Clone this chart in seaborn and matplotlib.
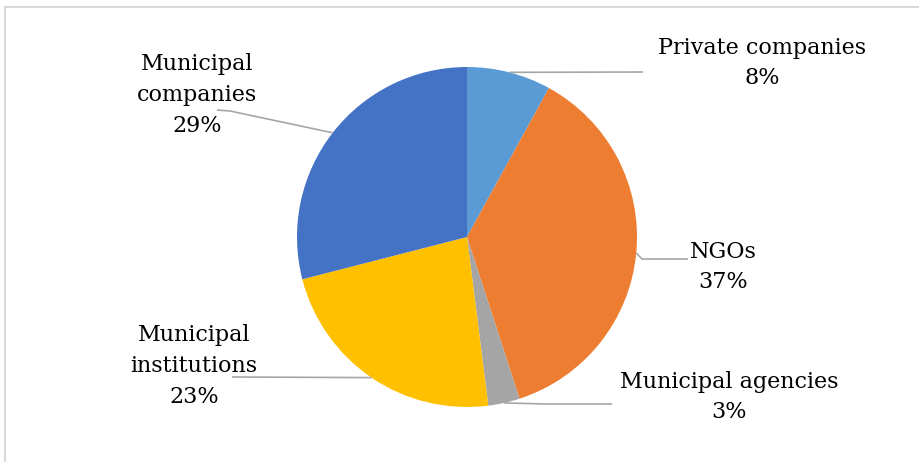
import numpy as np
import matplotlib
matplotlib.use("Agg")
import matplotlib.pyplot as plt
from matplotlib.patches import Rectangle
import seaborn as sns

# Share of organisations by type (percent)
categories = ["Private companies", "NGOs", "Municipal agencies",
              "Municipal institutions", "Municipal companies"]
shares = [8, 37, 3, 23, 29]
label_lines = [["Private companies"], ["NGOs"], ["Municipal agencies"],
               ["Municipal", "institutions"], ["Municipal", "companies"]]
colors = ["#5B9BD5", "#ED7D31", "#A5A5A5", "#FFC000", "#4472C4"]

sns.set_theme(style="white")
plt.rcParams["font.family"] = ["DejaVu Serif"]

W, H, DPI = 920, 462, 100
fig = plt.figure(figsize=(W / DPI, H / DPI), dpi=DPI)
ax = fig.add_axes([0, 0, 1, 1])

# pie centre and radius in pixels (from top-left)
CX, CY, R = 467, 237, 170


def px(x, y):
    """Pixel position (from top-left) to data coordinates."""
    return (x - CX) / R, (CY - y) / R


wedges, _ = ax.pie(shares, colors=colors, startangle=90, counterclock=False,
                   radius=1.0, center=(0, 0),
                   wedgeprops=dict(linewidth=0))

ax.set_xlim((0 - CX) / R, (W - CX) / R)
ax.set_ylim((CY - H) / R, CY / R)
ax.set_aspect("auto")
ax.axis("off")

# label block centres (pixels) and leader-line end / elbow points
label_pos = [(762, 63), (723, 267), (729, 397), (194, 366), (197, 95)]
leader_end = [(643, 72), (688, 259), (612, 404), (232, 377), (217, 110)]
leader_elbow = [None, (642, 259), (545, 404), None, (230, 111)]

line_color = "#A6A6A6"
for w, lines, share, (lx, ly), end, elbow in zip(
        wedges, label_lines, shares, label_pos, leader_end, leader_elbow):
    mid = np.deg2rad((w.theta1 + w.theta2) / 2)
    sx, sy = np.cos(mid), np.sin(mid)
    pts = [(sx, sy)]
    if elbow is not None:
        pts.append(px(*elbow))
    pts.append(px(*end))
    xs, ys = zip(*pts)
    ax.plot(xs, ys, color=line_color, lw=1.2, solid_capstyle="butt", zorder=1)
    text = "\n".join(lines + [f"{share}%"])
    tx, ty = px(lx, ly)
    ax.text(tx, ty, text, ha="center", va="center", fontsize=16,
            color="#000000", linespacing=1.52, zorder=3)

# chart-area border (only top and left edges fall inside the image)
fig.patches.append(Rectangle((5, -20), W + 20, H - 7 + 20, transform=None,
                             fill=False, edgecolor="#D9D9D9", lw=1.5))

fig.savefig("out.png", dpi=DPI, facecolor="white")
